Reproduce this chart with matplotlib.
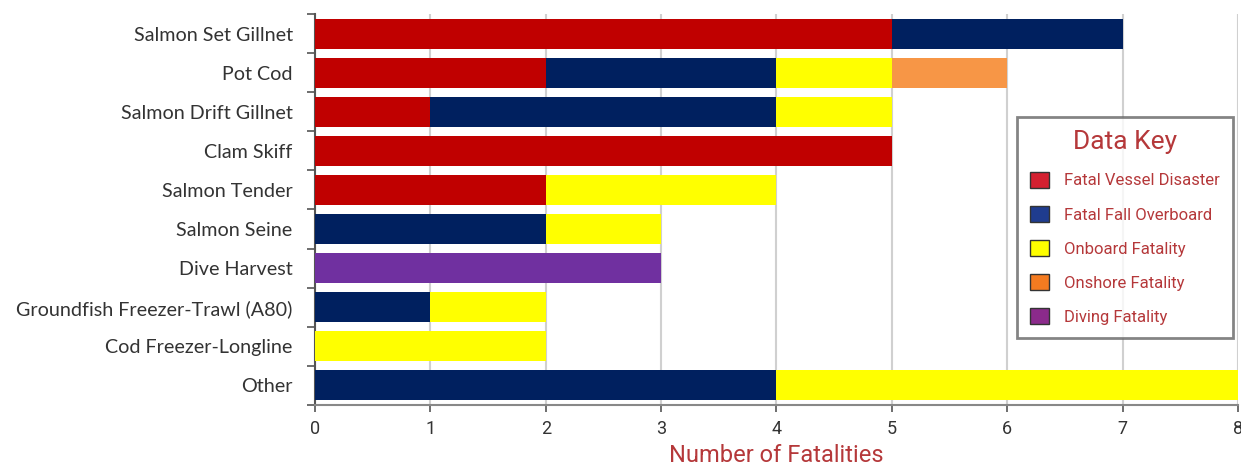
import numpy as np
import matplotlib

matplotlib.use("Agg")
import matplotlib.pyplot as plt
from matplotlib.patches import Patch

# ---------------------------------------------------------------------------
# Data
# ---------------------------------------------------------------------------

fisheries = [
    "Salmon Set Gillnet", "Pot Cod", "Salmon Drift Gillnet", "Clam Skiff",
    "Salmon Tender", "Salmon Seine", "Dive Harvest",
    "Groundfish Freezer-Trawl (A80)", "Cod Freezer-Longline", "Other",
]
vessel_disaster = [5, 2, 1, 5, 2, 0, 0, 0, 0, 0]
fall_overboard = [2, 2, 3, 0, 0, 2, 0, 1, 0, 4]
onboard = [0, 1, 1, 0, 2, 1, 0, 1, 2, 4]
onshore = [0, 1, 0, 0, 0, 0, 0, 0, 0, 0]
diving = [0, 0, 0, 0, 0, 0, 3, 0, 0, 0]

series_names = ["Fatal Vessel Disaster", "Fatal Fall Overboard",
                "Onboard Fatality", "Onshore Fatality", "Diving Fatality"]
bar_colors = ["#C00000", "#00205F", "#FFFF00", "#F79646", "#7030A0"]
key_colors = ["#D42030", "#1F3C8F", "#FFFF00", "#F47B20", "#8B2A8B"]

TEXT_RED = "#B5383A"

# ---------------------------------------------------------------------------
# Plot
# ---------------------------------------------------------------------------

fig = plt.figure(figsize=(12.41, 4.67), dpi=100)
ax = fig.add_axes([0.2538, 0.1328, 0.7438, 0.8372])

y = np.arange(len(fisheries))
left = np.zeros(len(fisheries))
for vals, color in zip([vessel_disaster, fall_overboard, onboard, onshore, diving],
                       bar_colors):
    vals = np.array(vals, dtype=float)
    ax.barh(y, vals, left=left, height=0.77, color=color, zorder=3)
    left += vals

ax.set_ylim(len(fisheries) - 0.5, -0.5)
ax.set_xlim(0, 8)

ax.set_yticks(y)
ax.set_yticklabels(fisheries, fontsize=14.2, color="#333333", family="Lato")
ax.tick_params(axis="y", length=0, pad=16)
# boundary ticks between rows
ax.set_yticks(np.arange(-0.5, len(fisheries)), minor=True)
ax.tick_params(axis="y", which="minor", length=6, width=1.2, color="#555555")

ax.set_xticks(np.arange(0, 9))
ax.tick_params(axis="x", length=5, width=1.2, color="#555555",
               labelsize=13, labelcolor="#333333", pad=6)
for lbl in ax.get_xticklabels():
    lbl.set_family("Roboto")

ax.grid(axis="x", color="#D0D0D0", linewidth=1.5, zorder=0)
ax.set_axisbelow(True)
for side in ["top", "right"]:
    ax.spines[side].set_visible(False)
ax.spines["left"].set_color("#555555")
ax.spines["left"].set_linewidth(1.5)
ax.spines["bottom"].set_color("#888888")
ax.spines["bottom"].set_linewidth(1.5)

ax.set_xlabel("Number of Fatalities", fontsize=17, color=TEXT_RED,
              family="Roboto", labelpad=4)

handles = [Patch(facecolor=c, edgecolor="#333333", linewidth=1.0)
           for c in key_colors]
leg = ax.legend(handles, series_names, title="Data Key",
                loc="upper left", bbox_to_anchor=(0.7606, 0.7366),
                borderaxespad=0, frameon=True, fancybox=False,
                title_fontsize=19, handlelength=1.1, handleheight=1.1,
                labelspacing=1.05, borderpad=0.8, handletextpad=0.9,
                prop={"family": "Roboto", "size": 12})
leg.get_title().set_color(TEXT_RED)
leg.get_title().set_family("Roboto")
for txt in leg.get_texts():
    txt.set_color(TEXT_RED)
frame = leg.get_frame()
frame.set_edgecolor("#666666")
frame.set_linewidth(2.0)
leg.set_zorder(5)

fig.savefig("out.png", dpi=100)
